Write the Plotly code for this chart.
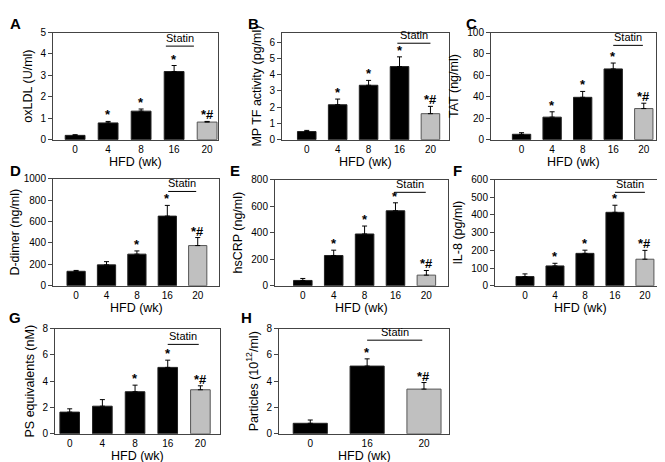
import plotly.graph_objects as go

# weeks on high fat diet
weeks = ["0", "4", "8", "16", "20"]
weeks_h = ["0", "16", "20"]

oxldl = [0.2, 0.78, 1.33, 3.18, 0.82]
oxldl_err = [0.03, 0.07, 0.1, 0.28, 0.03]
mp_tf = [0.5, 2.15, 3.35, 4.5, 1.6]
mp_tf_err = [0.07, 0.35, 0.3, 0.6, 0.45]
tat = [5, 21, 39.5, 66, 29]
tat_err = [1.5, 5, 5.5, 5.5, 5]
ddimer = [135, 195, 295, 650, 375]
ddimer_err = [8, 30, 30, 100, 75]
hscrp = [40, 228, 390, 565, 80]
hscrp_err = [15, 40, 60, 60, 35]
il8 = [52, 112, 183, 415, 150]
il8_err = [15, 15, 18, 40, 50]
ps_eq = [1.65, 2.1, 3.2, 5.05, 3.35]
ps_eq_err = [0.25, 0.5, 0.5, 0.55, 0.3]
particles = [0.8, 5.15, 3.4]
particles_err = [0.25, 0.55, 0.5]

sig_5 = ["", "*", "*", "*", "*#"]
sig_d = ["", "", "*", "*", "*#"]
sig_g = ["", "", "*", "*", "*#"]
sig_h = ["", "*", "*#"]

panels = [
    dict(letter="A", x=weeks, y=oxldl, err=oxldl_err, sig=sig_5, ytitle="oxLDL (U/ml)",
         yrange=[0, 5], dtick=1, box=(45, 19, 210, 129), xr=[-0.67, 4.33], lpos=(7, 10),
         statin=(2.75, 3.6, 0.873)),
    dict(letter="B", x=weeks, y=mp_tf, err=mp_tf_err, sig=sig_5, ytitle="MP TF activity (pg/ml)",
         yrange=[0, 6.6], dtick=1, box=(274, 19, 441, 129), xr=[-0.8, 4.6], lpos=(245, 10),
         statin=(2.93, 4.0, 0.9)),
    dict(letter="C", x=weeks, y=tat, err=tat_err, sig=sig_5, ytitle="TAT (ng/ml)",
         yrange=[0, 100], dtick=20, box=(483, 19, 648, 129), xr=[-1.0, 4.4], lpos=(463, 10),
         statin=(3.0, 3.97, 0.88)),
    dict(letter="D", x=weeks, y=ddimer, err=ddimer_err, sig=sig_d, ytitle="D-dimer (ng/ml)",
         yrange=[0, 1000], dtick=200, box=(45, 169, 211, 279), xr=[-0.76, 4.7], lpos=(7, 161),
         statin=(3.03, 3.95, 0.88)),
    dict(letter="E", x=weeks, y=hscrp, err=hscrp_err, sig=sig_5, ytitle="hsCRP (ng/ml)",
         yrange=[0, 800], dtick=200, box=(267, 170, 440, 279), xr=[-0.9, 4.7], lpos=(227, 161),
         statin=(2.96, 3.98, 0.88)),
    dict(letter="F", x=weeks, y=il8, err=il8_err, sig=sig_5, ytitle="IL-8 (pg/ml)",
         yrange=[0, 600], dtick=100, box=(487, 170, 657, 279), xr=[-1.0, 4.67], lpos=(449, 161),
         statin=(3.0, 4.0, 0.88)),
    dict(letter="G", x=weeks, y=ps_eq, err=ps_eq_err, sig=sig_g, ytitle="PS equivalents (nM)",
         yrange=[0, 8], dtick=2, box=(47, 323, 212, 431), xr=[-0.45, 4.6], lpos=(7, 312),
         statin=(3.0, 3.95, 0.85)),
    dict(letter="H", x=weeks_h, y=particles, err=particles_err, sig=sig_h,
         ytitle="Particles (10<sup>12</sup>/ml)",
         yrange=[0, 8], dtick=2, box=(271, 323, 441, 431), xr=[-0.55, 2.44], lpos=(238, 312),
         statin=(1.0, 1.97, 0.89)),
]

W, H = 665, 462
FONT = "Liberation Sans, Arial, sans-serif"
fig = go.Figure()
annotations = []
shapes = []

for k, p in enumerate(panels):
    n = len(p["x"])
    idx = list(range(n))
    suffix = "" if k == 0 else str(k + 1)
    xa, ya = "x" + suffix, "y" + suffix
    colors = ["black"] * (n - 1) + ["#c0c0c0"]
    lines = ["#222222"] * (n - 1) + ["#555555"]
    fig.add_trace(go.Bar(
        x=idx, y=p["y"], xaxis=xa, yaxis=ya, width=0.6,
        marker=dict(color=colors, line=dict(color=lines, width=1)),
        error_y=dict(type="data", array=p["err"], arrayminus=[0] * n, symmetric=False,
                     color="black", thickness=1, width=2.5),
        showlegend=False,
    ))
    x0, y0, x1, y1 = p["box"]
    common = dict(showline=True, linecolor="#444444", linewidth=1, mirror=True,
                  showgrid=False, zeroline=False,
                  tickfont=dict(family=FONT, size=10, color="black"))
    fig.layout["xaxis" + suffix] = dict(
        domain=[x0 / W, x1 / W], anchor=ya, range=p["xr"],
        tickmode="array", tickvals=idx, ticktext=p["x"], ticks="", ticklen=0,
        **common)
    fig.layout["yaxis" + suffix] = dict(
        domain=[1 - y1 / H, 1 - y0 / H], anchor=xa, range=p["yrange"], dtick=p["dtick"],
        ticks="outside", ticklen=4, tickcolor="#444444",
        title=dict(text=p["ytitle"], font=dict(family=FONT, size=12.5, color="black"), standoff=5),
        **common)
    # x axis title
    annotations.append(dict(x=0.5, y=0, xref=xa + " domain", yref=ya + " domain",
                            text="HFD (wk)", showarrow=False, yanchor="middle", yshift=-22,
                            font=dict(family=FONT, size=12.5, color="black")))
    # significance marks
    for i in idx:
        if p["sig"][i]:
            annotations.append(dict(x=i, y=p["y"][i] + p["err"][i], xref=xa, yref=ya,
                                    text="<b>" + p["sig"][i] + "</b>", showarrow=False,
                                    yanchor="bottom", yshift=-3,
                                    font=dict(family=FONT, size=13, color="black")))
    # statin bar
    s0, s1, sy = p["statin"]
    shapes.append(dict(type="line", xref=xa, yref=ya + " domain", x0=s0, x1=s1,
                       y0=sy, y1=sy, line=dict(color="black", width=1)))
    annotations.append(dict(x=(s0 + s1) / 2, y=sy, xref=xa, yref=ya + " domain",
                            text="Statin", showarrow=False, yanchor="bottom", yshift=0,
                            font=dict(family=FONT, size=11, color="black")))
    # panel letter
    lx, ly = p["lpos"]
    annotations.append(dict(x=lx / W, y=1 - ly / H, xref="paper", yref="paper",
                            text="<b>" + p["letter"] + "</b>", showarrow=False,
                            xanchor="center", yanchor="middle",
                            font=dict(family=FONT, size=15, color="black")))

fig.update_layout(
    width=W, height=H, margin=dict(l=0, r=0, t=0, b=0),
    paper_bgcolor="white", plot_bgcolor="white",
    annotations=annotations, shapes=shapes, bargap=0.4,
)
fig.write_html("out.html")
